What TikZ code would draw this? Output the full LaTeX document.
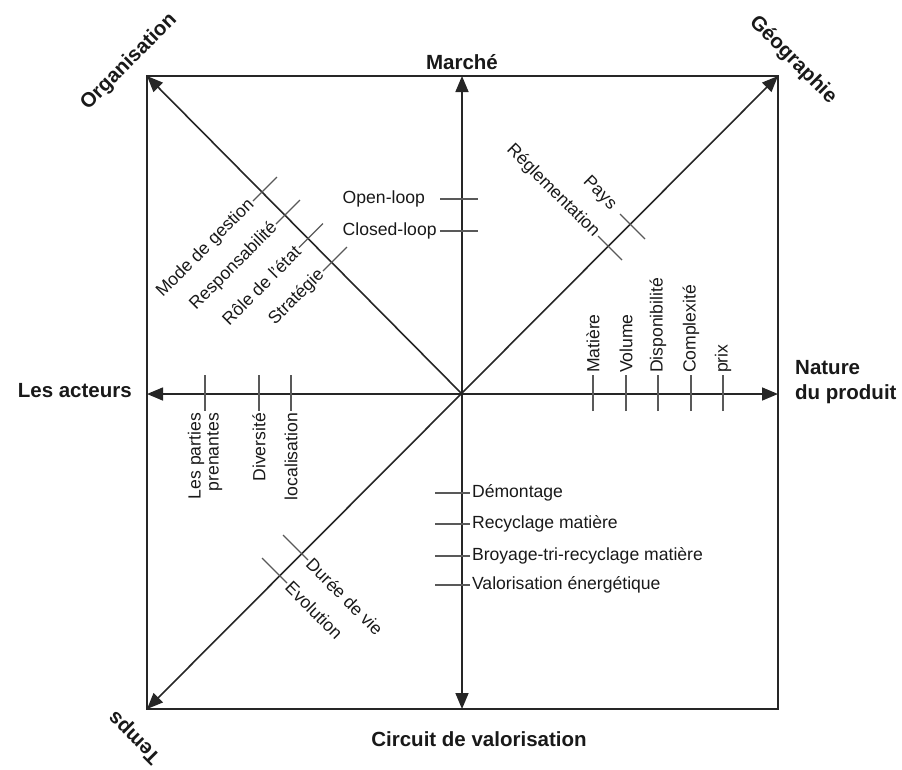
\documentclass[tikz,border=0pt]{standalone}
\usepackage{fontspec}
\setmainfont{Liberation Sans}
\usetikzlibrary{arrows.meta}
\begin{document}
\begin{tikzpicture}[x=1pt,y=-1pt,
  axisone/.style={line width=1.6pt, draw=black!85, -{Triangle[length=16pt,width=13pt]}},
  axisboth/.style={line width=1.6pt, draw=black!85, {Triangle[length=16pt,width=13pt]}-{Triangle[length=16pt,width=13pt]}},
  frame/.style={line width=1.6pt, draw=black!85},
  tickline/.style={line width=1.1pt, draw=black!65},
  big/.style={font=\fontsize{20.5}{25}\selectfont\bfseries, inner sep=0pt, text=black!90},
  lab/.style={font=\fontsize{17.6}{21}\selectfont, inner sep=1.5pt, text=black!90},
]
\useasboundingbox (0,0) rectangle (902,769);
% main frame and axes
\coordinate (O) at (462,394);
\coordinate (NW) at (147,76);
\coordinate (NE) at (778,76);
\coordinate (SW) at (147,709);
\coordinate (SE) at (778,709);
\coordinate (N) at (462,76);
\coordinate (S) at (462,709);
\coordinate (W) at (147,394);
\coordinate (E) at (778,394);
\draw[frame] (NW) rectangle (SE);
\draw[axisboth] (N) -- (S);
\draw[axisboth] (W) -- (E);
\draw[axisboth] (SW) -- (NE);
\draw[axisone] (O) -- (NW);

% axis titles
\node[big] (marche) at (462,62) {Marché};
\node[big] (circuit) at (479,739) {Circuit de valorisation};
\node[big, anchor=east] (acteurs) at (132,391) {Les acteurs};
\node[big, anchor=west, align=left] (nature) at (795,382) {Nature\\du produit};
\node[big, rotate=45] (orga) at (129,62) {Organisation};
\node[big, rotate=-45] (geo) at (793,60) {Géographie};
\node[big, rotate=135] (temps) at (135,737) {Temps};

% Organisation diagonal ticks
\draw[tickline] (277,177) -- (253,201) node[lab, rotate=45, anchor=east] (mg) {Mode de gestion};
\draw[tickline] (300,200) -- (276,224) node[lab, rotate=45, anchor=east] (resp) {Responsabilité};
\draw[tickline] (323,223.5) -- (299,247.5) node[lab, rotate=45, anchor=east] (role) {Rôle de l'état};
\draw[tickline] (347,247) -- (323,271) node[lab, rotate=45, anchor=east] (strat) {Stratégie};

% Geographie diagonal ticks
\draw[tickline] (645,239) -- (620,214) node[lab, rotate=-45, anchor=east, inner sep=9pt] (pays) {Pays};
\draw[tickline] (622,260) -- (598,236) node[lab, rotate=-45, anchor=east] (regl) {Réglementation};

% Temps diagonal ticks
\draw[tickline] (283,535) -- (308,560) node[lab, rotate=-45, anchor=west] (duree) {Durée de vie};
\draw[tickline] (262,558) -- (287,583) node[lab, rotate=-45, anchor=west] (evol) {Evolution};

% Nature du produit ticks
\draw[tickline] (593,411) -- (593,375) node[lab, rotate=90, anchor=west] (mat) {Matière};
\draw[tickline] (626,411) -- (626,375) node[lab, rotate=90, anchor=west] (vol) {Volume};
\draw[tickline] (658,411) -- (658,375) node[lab, rotate=90, anchor=west] (dispo) {Disponibilité};
\draw[tickline] (691,411) -- (691,375) node[lab, rotate=90, anchor=west] (compl) {Complexité};
\draw[tickline] (723,411) -- (723,375) node[lab, rotate=90, anchor=west] (prix) {prix};

% Les acteurs ticks
\draw[tickline] (205,375) -- (205,411) node[lab, rotate=90, anchor=east, align=right, font=\fontsize{17.6}{18}\selectfont] (pp) {Les parties\\prenantes};
\draw[tickline] (259,375) -- (259,411) node[lab, rotate=90, anchor=east] (div) {Diversité};
\draw[tickline] (291,375) -- (291,411) node[lab, rotate=90, anchor=east] (loc) {localisation};

% Marche ticks
\draw[tickline] (440,199) -- (478,199);
\node[lab, anchor=west] (open) at (341,199) {Open-loop};
\draw[tickline] (440,231) -- (478,231);
\node[lab, anchor=west] (closed) at (341,231) {Closed-loop};

% Circuit de valorisation ticks
\draw[tickline] (435,493) -- (470,493) node[lab, anchor=west] (dem) {Démontage};
\draw[tickline] (435,524) -- (470,524) node[lab, anchor=west] (recy) {Recyclage matière};
\draw[tickline] (435,556) -- (470,556) node[lab, anchor=west] (broy) {Broyage-tri-recyclage matière};
\draw[tickline] (435,585) -- (470,585) node[lab, anchor=west] (valo) {Valorisation énergétique};
\end{tikzpicture}
\end{document}
